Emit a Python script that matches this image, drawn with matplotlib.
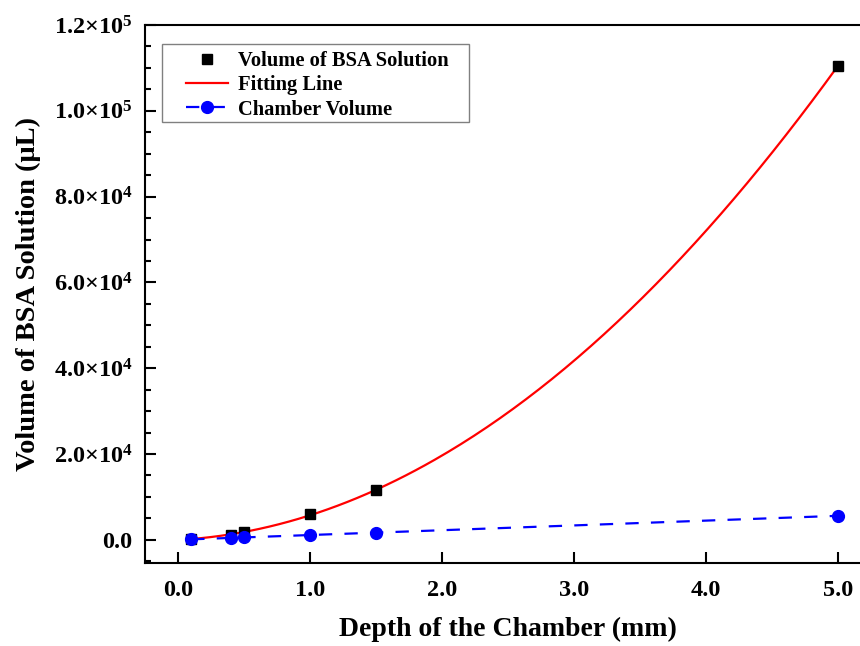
import numpy as np
import matplotlib
matplotlib.use("Agg")
import matplotlib.pyplot as plt
from matplotlib.patches import Rectangle
from matplotlib.ticker import FuncFormatter, MultipleLocator

plt.rcParams['font.family'] = ['Liberation Serif', 'DejaVu Serif']
plt.rcParams['font.weight'] = 'bold'
plt.rcParams['mathtext.fontset'] = 'custom'
plt.rcParams['mathtext.rm'] = 'Liberation Serif:bold'
plt.rcParams['mathtext.it'] = 'Liberation Serif:bold'
plt.rcParams['mathtext.bf'] = 'Liberation Serif:bold'

# Measured data
depth_mm = [0.1, 0.4, 0.5, 1.0, 1.5, 5.0]
bsa_volume_ul = [200, 1200, 1800, 6000, 11500, 110500]
chamber_volume_ul = [112, 450, 560, 1120, 1680, 5600]

x_ticks = [0.0, 1.0, 2.0, 3.0, 4.0, 5.0]
y_ticks = [0, 20000, 40000, 60000, 80000, 100000, 120000]

# Quadratic fit of the BSA volume against depth
coef = np.polyfit(depth_mm, bsa_volume_ul, 2)
fit_x = np.linspace(min(depth_mm), max(depth_mm), 200)
fit_y = np.polyval(coef, fit_x)

fig = plt.figure(figsize=(8.6, 6.46), dpi=100)
ax = fig.add_axes([145 / 860, 1 - 563 / 646, 726 / 860, (563 - 25) / 646])

ax.plot(depth_mm, bsa_volume_ul, linestyle='none', marker='s', markersize=7.5,
        color='black', label='Volume of BSA Solution', zorder=3)
ax.plot(fit_x, fit_y, color='#ff0000', linewidth=1.6, label='Fitting Line', zorder=2)
ax.plot(depth_mm, chamber_volume_ul, linestyle=(0, (6.0, 5.5)), linewidth=1.6,
        marker='o', markersize=8.5, color='#0000ff', label='Chamber Volume', zorder=4)

ax.set_xlim(-0.25, 5.25)
ax.set_ylim(-5400, 120000)
ax.set_xticks(x_ticks)
ax.set_yticks(y_ticks)
ax.yaxis.set_minor_locator(MultipleLocator(5000))


def sci_label(v, pos):
    if v == 0:
        return '0.0'
    e = int(np.floor(np.log10(abs(v))))
    m = v / 10 ** e
    return f'{m:.1f}×10$^{{{e}}}$'


ax.yaxis.set_major_formatter(FuncFormatter(sci_label))
ax.xaxis.set_major_formatter(FuncFormatter(lambda v, p: f'{v:.1f}'))

ax.tick_params(axis='both', which='major', direction='in', length=8, width=1.5,
               labelsize=17.5)
ax.tick_params(axis='x', which='major', pad=12)
ax.tick_params(axis='y', which='major', pad=9)
ax.tick_params(axis='y', which='minor', direction='in', length=4.5, width=1.5)
for sp in ax.spines.values():
    sp.set_linewidth(1.5)

ax.set_xlabel('Depth of the Chamber (mm)', fontsize=20, fontweight='bold', labelpad=12)
ax.set_ylabel('Volume of BSA Solution (μL)', fontsize=20.5, fontweight='bold', labelpad=9)

# Legend entries without their own frame; the frame is drawn as a separate box
leg = ax.legend(loc='upper left', bbox_to_anchor=(0.0565, 0.951), fontsize=14.8,
                frameon=False, borderpad=0, borderaxespad=0,
                handlelength=2.05, handletextpad=0.5, labelspacing=0.2)
ax.add_patch(Rectangle((0.0234, 0.8197), 0.4229, 0.145, transform=ax.transAxes,
                       facecolor='white', edgecolor='#808080', linewidth=1.0,
                       zorder=5))
leg.set_zorder(6)

fig.savefig('out.png', dpi=100)
